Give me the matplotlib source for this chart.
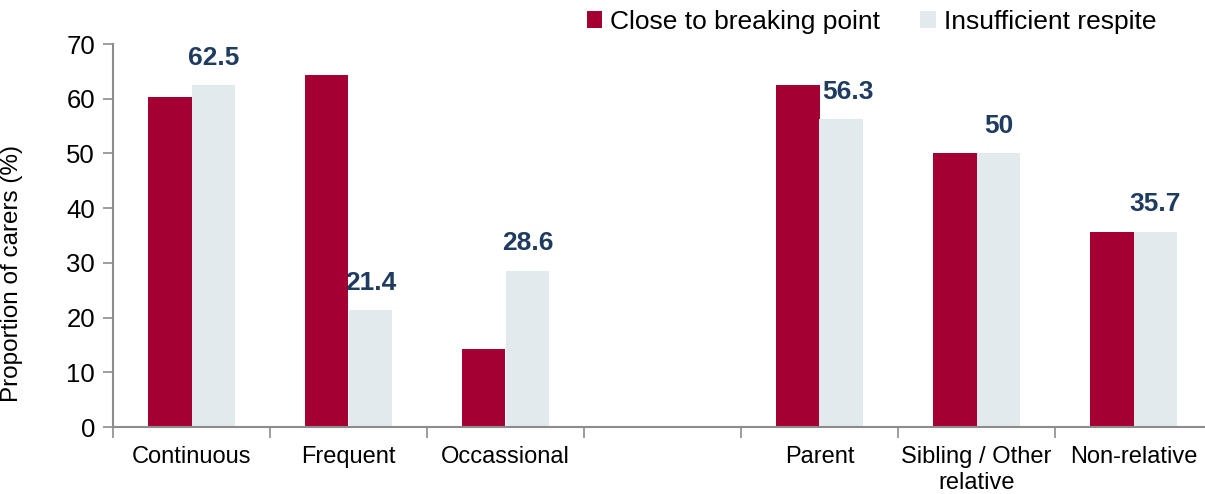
import numpy as np
import matplotlib.pyplot as plt

plt.rcParams['font.family'] = ['Liberation Sans', 'DejaVu Sans']

categories = ['Continuous', 'Frequent', 'Occassional', '', 'Parent',
              'Sibling / Other\nrelative', 'Non-relative']
breaking = [60.3, 64.3, 14.3, np.nan, 62.5, 50.0, 35.7]
respite = [62.5, 21.4, 28.6, np.nan, 56.3, 50.0, 35.7]
respite_labels = ['62.5', '21.4', '28.6', '', '56.3', '50', '35.7']

red = '#A50034'
light = '#E3EAED'
grey = '#8C8C8C'

fig = plt.figure(figsize=(12.05, 4.94), dpi=100)
ax = fig.add_axes([113 / 1205, 1 - 427 / 494, 1099 / 1205, 383 / 494])

x = np.arange(len(categories))
w = 0.28
ax.bar(x - w / 2, breaking, w, color=red, label='Close to breaking point')
ax.bar(x + w / 2, respite, w, color=light, label='Insufficient respite')

for xi, v, lab in zip(x, respite, respite_labels):
    if lab:
        # the parent label sits a bit to the right in the original
        dx = 5 if lab == '56.3' else 0
        ax.annotate(lab, (xi + w / 2, v), xytext=(dx, 11), textcoords='offset points',
                    ha='center', va='bottom', fontsize=19, fontweight='bold',
                    color='#1F3B5F')

ax.set_xlim(-0.5, len(categories) - 0.5)
ax.set_ylim(0, 70)
ax.set_yticks(range(0, 71, 10))
ax.tick_params(axis='y', labelsize=18.5, length=7, color=grey, width=1.2, pad=6)

ax.set_xticks(x)
ax.set_xticklabels(categories, fontsize=17, linespacing=1.2)
ax.tick_params(axis='x', which='major', length=0, pad=14)
ax.set_xticks(np.arange(-0.5, len(categories), 1), minor=True)
ax.tick_params(axis='x', which='minor', length=8, color=grey, width=1.2)

for s in ['top', 'right']:
    ax.spines[s].set_visible(False)
for s in ['left', 'bottom']:
    ax.spines[s].set_color(grey)
    ax.spines[s].set_linewidth(1.5)

ax.set_ylabel('Proportion of carers (%)', fontsize=17.5)
ax.yaxis.set_label_coords(-0.082, 0.40)

ax.legend(loc='center', bbox_to_anchor=(0.69, 1 + 22 / 383), ncol=2,
          frameon=False, fontsize=19, handlelength=0.6, handleheight=0.6,
          handletextpad=0.3, columnspacing=1.5)

fig.savefig('out.png', dpi=100)
